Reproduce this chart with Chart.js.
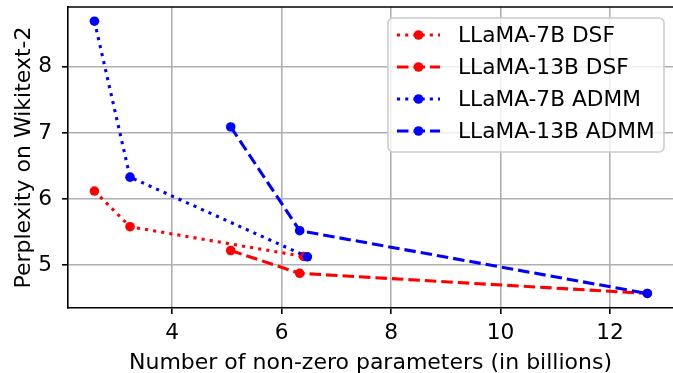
<!DOCTYPE html>
<html>
<head>
<meta charset="utf-8">
<script src="https://cdn.jsdelivr.net/npm/chart.js@4.4.1/dist/chart.umd.min.js"></script>
<style>
  html, body { margin: 0; padding: 0; background: #fff; }
  #wrap { width: 673px; height: 373px; position: relative; }
</style>
</head>
<body>
<div id="wrap"><canvas id="perplexityChart" width="673" height="373"></canvas></div>
<script>
// values
const seriesNames = ['LLaMA-7B DSF', 'LLaMA-13B DSF', 'LLaMA-7B ADMM', 'LLaMA-13B ADMM'];
const dsf7bX = [2.58, 3.23, 6.40];
const dsf7bY = [6.12, 5.58, 5.13];
const dsf13bX = [5.07, 6.33, 12.68];
const dsf13bY = [5.22, 4.875, 4.57];
const admm7bX = [2.58, 3.23, 6.47];
const admm7bY = [8.69, 6.33, 5.125];
const admm13bX = [5.07, 6.33, 12.68];
const admm13bY = [7.09, 5.52, 4.57];
const xTicks = [4, 6, 8, 10, 12];
const yTicks = [5, 6, 7, 8];

const FONT = 'DejaVu Sans';
const FSIZE = 21.7;
const DOTTED = [3.1, 5.1];
const DASHED = [11.5, 5];
const MARKER_R = 4.8;

const toPoints = (xs, ys) => xs.map((x, i) => ({ x: x, y: ys[i] }));

const styles = [
  { color: '#ff0000', dash: DOTTED },
  { color: '#ff0000', dash: DASHED },
  { color: '#0000ff', dash: DOTTED },
  { color: '#0000ff', dash: DASHED }
];
const seriesData = [
  toPoints(dsf7bX, dsf7bY),
  toPoints(dsf13bX, dsf13bY),
  toPoints(admm7bX, admm7bY),
  toPoints(admm13bX, admm13bY)
];

// matplotlib-style legend + top spine
const extrasPlugin = {
  id: 'extras',
  afterDraw(chart) {
    const ctx = chart.ctx;
    const area = chart.chartArea;
    ctx.save();
    ctx.strokeStyle = '#000';
    ctx.lineWidth = 1.6;
    ctx.beginPath();
    ctx.moveTo(area.left - 0.8, area.top);
    ctx.lineTo(area.right, area.top);
    ctx.stroke();

    // legend box
    const bx = 388, by = 18, bw = 276, bh = 134, r = 5;
    ctx.beginPath();
    ctx.moveTo(bx + r, by);
    ctx.arcTo(bx + bw, by, bx + bw, by + bh, r);
    ctx.arcTo(bx + bw, by + bh, bx, by + bh, r);
    ctx.arcTo(bx, by + bh, bx, by, r);
    ctx.arcTo(bx, by, bx + bw, by, r);
    ctx.closePath();
    ctx.fillStyle = 'rgba(255,255,255,0.8)';
    ctx.fill();
    ctx.strokeStyle = '#cccccc';
    ctx.lineWidth = 1.6;
    ctx.stroke();

    const rowY = [35, 67, 99, 131];
    seriesNames.forEach((name, i) => {
      const y = rowY[i];
      ctx.strokeStyle = styles[i].color;
      ctx.lineWidth = 3.1;
      ctx.setLineDash(styles[i].dash);
      ctx.beginPath();
      ctx.moveTo(397, y);
      ctx.lineTo(440, y);
      ctx.stroke();
      ctx.setLineDash([]);
      ctx.fillStyle = styles[i].color;
      ctx.beginPath();
      ctx.arc(418.5, y, MARKER_R, 0, Math.PI * 2);
      ctx.fill();
      ctx.fillStyle = '#000';
      ctx.font = FSIZE + 'px "' + FONT + '"';
      ctx.textBaseline = 'middle';
      ctx.textAlign = 'left';
      ctx.fillText(name, 458, y + 1);
    });
    ctx.restore();
  }
};

const ctx = document.getElementById('perplexityChart').getContext('2d');
new Chart(ctx, {
  type: 'line',
  data: {
    datasets: seriesNames.map((name, i) => ({
      label: name,
      data: seriesData[i],
      borderColor: styles[i].color,
      backgroundColor: styles[i].color,
      borderWidth: 3.1,
      borderDash: styles[i].dash,
      borderCapStyle: 'butt',
      pointRadius: MARKER_R,
      pointBorderWidth: 0,
      pointBackgroundColor: styles[i].color,
      fill: false,
      tension: 0,
      order: seriesNames.length - i
    }))
  },
  options: {
    responsive: false,
    animation: false,
    devicePixelRatio: 1,
    layout: { autoPadding: false, padding: { top: 7, right: 0, left: 0, bottom: 0 } },
    plugins: {
      legend: { display: false },
      tooltip: { enabled: false }
    },
    scales: {
      x: {
        type: 'linear',
        min: 2.097,
        max: 13.15,
        afterBuildTicks: (scale) => { scale.ticks = xTicks.map(v => ({ value: v })); },
        afterFit: (scale) => {
          scale.height = 65;
          scale.paddingLeft = 0;
          scale.paddingRight = 0;
        },
        grid: { color: '#b0b0b0', lineWidth: 1.6, tickColor: '#000', tickLength: 6, tickWidth: 1.6 },
        border: { display: true, color: '#000', width: 1.6 },
        ticks: { color: '#000', font: { family: FONT, size: FSIZE }, padding: 6, maxRotation: 0 },
        title: {
          display: true,
          text: 'Number of non-zero parameters (in billions)',
          color: '#000',
          font: { family: FONT, size: 22 },
          padding: { top: 0, bottom: -3 }
        }
      },
      y: {
        type: 'linear',
        min: 4.35,
        max: 8.905,
        afterBuildTicks: (scale) => { scale.ticks = yTicks.map(v => ({ value: v })); },
        afterFit: (scale) => {
          scale.width = 68;
          scale.paddingTop = 0;
          scale.paddingBottom = 0;
        },
        grid: { color: '#b0b0b0', lineWidth: 1.6, tickColor: '#000', tickLength: 6, tickWidth: 1.6 },
        border: { display: true, color: '#000', width: 1.6 },
        ticks: { color: '#000', font: { family: FONT, size: FSIZE }, padding: 10 },
        title: {
          display: true,
          text: 'Perplexity on Wikitext-2',
          color: '#000',
          font: { family: FONT, size: 22 },
          padding: { top: 11, bottom: 0 }
        }
      }
    }
  },
  plugins: [extrasPlugin]
});
</script>
</body>
</html>
